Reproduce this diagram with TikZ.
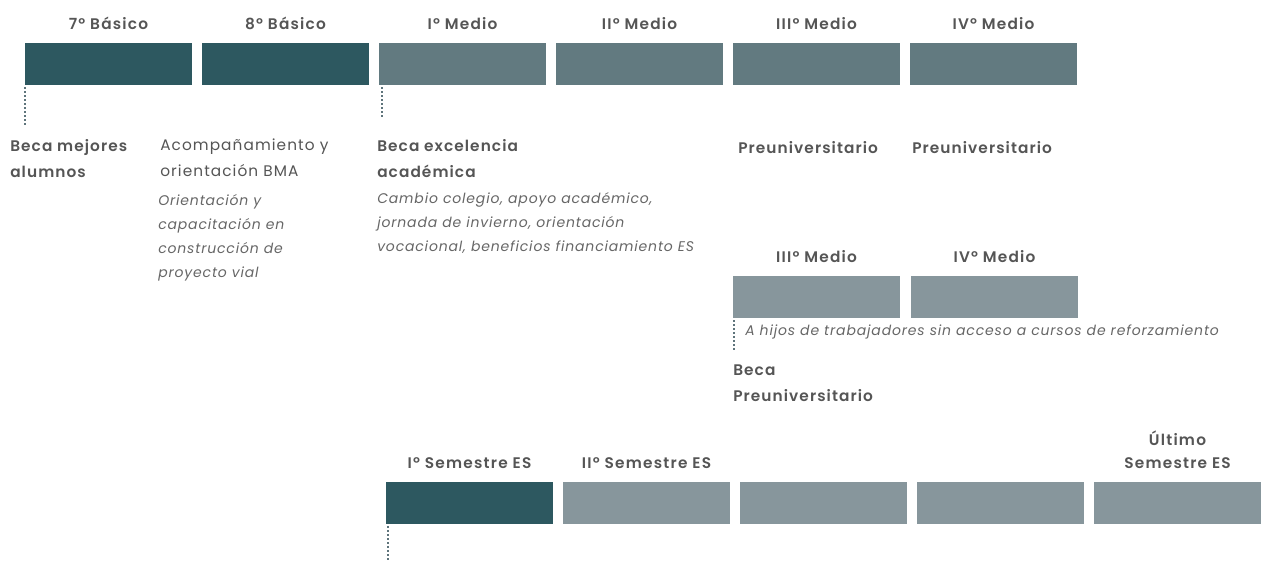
\documentclass[tikz,border=0pt]{standalone}
\usepackage{fontspec}
\setmainfont{Poppins}[BoldFont={Poppins SemiBold}]
\usetikzlibrary{positioning}
\definecolor{tealdark}{HTML}{2D5860}
\definecolor{tealmid}{HTML}{627A80}
\definecolor{teallight}{HTML}{87969C}
\definecolor{txtgray}{HTML}{555555}
\definecolor{itgray}{HTML}{666666}
\definecolor{leadgray}{HTML}{5E747B}
\newcommand{\headfont}{\fontsize{11.5}{17}\selectfont\bfseries\addfontfeature{LetterSpace=8}}
\newcommand{\labfont}{\fontsize{11.5}{19.5}\selectfont\bfseries\addfontfeature{LetterSpace=7}}
\newcommand{\regfont}{\fontsize{11.5}{19.5}\selectfont\addfontfeature{LetterSpace=7}}
\newcommand{\notefont}{\fontsize{10.5}{18}\selectfont\itshape\addfontfeature{LetterSpace=6}}

\begin{document}
\begin{tikzpicture}[x=0.75pt, y=-0.75pt,
  bar/.style={anchor=north west, minimum width=125.25pt, minimum height=31.5pt, inner sep=0pt, outer sep=0pt},
  head/.style={font=\headfont, text=txtgray, inner sep=0pt, align=center},
  label/.style={anchor=north west, align=left, inner sep=0pt, font=\labfont, text=txtgray},
  note/.style={anchor=north west, align=left, inner sep=0pt, font=\notefont, text=itgray},
  leader/.style={draw=leadgray, line width=0.9pt, dash pattern=on 1.5pt off 1.5pt}]
\useasboundingbox (0,0) rectangle (1262,560);

% school years
\foreach \i/\c/\t in {0/tealdark/7º Básico,1/tealdark/8º Básico,2/tealmid/Iº Medio,
  3/tealmid/IIº Medio,4/tealmid/IIIº Medio,5/tealmid/IVº Medio}{
  \node[bar, fill=\c] (m\i) at (25+177*\i,43) {};
  \node[head, above=10pt of m\i] (hm\i) {\t};
}

% preuniversitario years
\foreach \i/\t in {0/IIIº Medio,1/IVº Medio}{
  \node[bar, fill=teallight] (p\i) at (733+178*\i,276) {};
  \node[head, above=10pt of p\i] (hp\i) {\t};
}

% higher education
\foreach \i/\c in {0/tealdark,1/teallight,2/teallight,3/teallight,4/teallight}
  \node[bar, fill=\c] (s\i) at (386+177*\i,482) {};
\node[head, above=10pt of s0] (hs0) {Iº Semestre ES};
\node[head, above=10pt of s1] (hs1) {IIº Semestre ES};
\node[head, above=10pt of s4] (hs4) {Último\\Semestre ES};

% leaders
\draw[leader] ([yshift=-1.5pt]m0.south west) -- ++(0,38);
\draw[leader] ([xshift=2.25pt,yshift=-1.5pt]m2.south west) -- ++(0,30);
\draw[leader] ([xshift=0.75pt,yshift=-1.5pt]p0.south west) -- ++(0,30);
\draw[leader] ([xshift=1.5pt,yshift=-1.5pt]s0.south west) -- ++(0,36);

% benefits
\node[label] (bma) at (10,139) {Beca mejores\\alumnos};
\node[label, font=\regfont] (acomp) at (160,139) {Acompañamiento y\\orientación BMA};
\node[note] (acompnote) at (158,194) {Orientación y\\capacitación en\\construcción de\\proyecto vial};
\node[label] (bea) at (377,139) {Beca excelencia\\académica};
\node[note] (beanote) at (377,192) {Cambio colegio, apoyo académico,\\jornada de invierno, orientación\\vocacional, beneficios financiamiento ES};
\node[label] (pre0) at (738,141) {Preuniversitario};
\node[label] (pre1) at (912,141) {Preuniversitario};
\node[note] (bpnote) at (745,325) {A hijos de trabajadores sin acceso a cursos de reforzamiento};
\node[label] (bp) at (733,365) {Beca\\Preuniversitario};
\end{tikzpicture}
\end{document}
